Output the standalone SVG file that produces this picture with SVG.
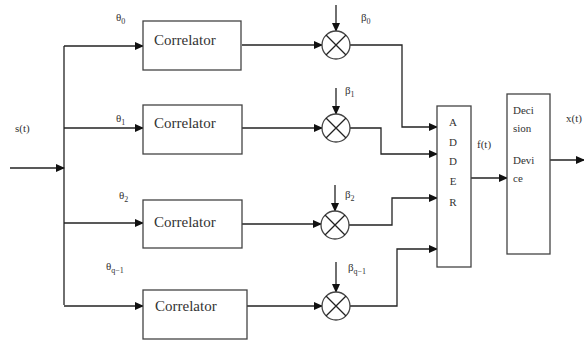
<svg xmlns="http://www.w3.org/2000/svg" width="584" height="342" viewBox="0 0 584 342">
<style>
.ln{stroke:#222;stroke-width:1.3;fill:none}
.bx{stroke:#444;stroke-width:1.3;fill:#fff}
.t{font-family:"Liberation Serif",serif;fill:#333}
.c{font-size:15px}
.s{font-size:11px}
</style>
<defs>
<marker id="ah" markerWidth="9" markerHeight="8" refX="8" refY="4" orient="auto" markerUnits="userSpaceOnUse">
<path d="M0,0 L9,4 L0,8 Z" fill="#111"/>
</marker>
</defs>
<rect width="584" height="342" fill="#fff"/>
<g id="connectors">
<path class="ln" d="M10,168 H64" marker-end="url(#ah)"/>
<path class="ln" d="M64,46 V305"/>
<path class="ln" d="M64,46 H143" marker-end="url(#ah)"/>
<path class="ln" d="M64,128 H143" marker-end="url(#ah)"/>
<path class="ln" d="M64,223 H143" marker-end="url(#ah)"/>
<path class="ln" d="M64,306 H143" marker-end="url(#ah)"/>
<path class="ln" d="M242,45 H322" marker-end="url(#ah)"/>
<path class="ln" d="M242,128 H322" marker-end="url(#ah)"/>
<path class="ln" d="M242,224 H321" marker-end="url(#ah)"/>
<path class="ln" d="M247,306 H322" marker-end="url(#ah)"/>
<path class="ln" d="M336,5 V31" marker-end="url(#ah)"/>
<path class="ln" d="M336,88 V114" marker-end="url(#ah)"/>
<path class="ln" d="M335,185 V211" marker-end="url(#ah)"/>
<path class="ln" d="M336,262 V292" marker-end="url(#ah)"/>
<path class="ln" d="M350,45 H402 V127 H437" marker-end="url(#ah)"/>
<path class="ln" d="M350,128 H381 V154 H437" marker-end="url(#ah)"/>
<path class="ln" d="M349,225 H392 V198 H437" marker-end="url(#ah)"/>
<path class="ln" d="M350,306 H397 V249 H437" marker-end="url(#ah)"/>
<path class="ln" d="M471,178 H507" marker-end="url(#ah)"/>
<path class="ln" d="M550,160 H584" marker-end="url(#ah)"/>
</g>
<g id="corr1"><rect class="bx" x="143" y="21" width="98" height="49"/><text class="t c" x="154" y="45">Correlator</text></g>
<g id="corr2"><rect class="bx" x="143" y="105" width="99" height="49"/><text class="t c" x="154" y="128">Correlator</text></g>
<g id="corr3"><rect class="bx" x="143" y="200" width="99" height="48"/><text class="t c" x="154" y="227">Correlator</text></g>
<g id="corr4"><rect class="bx" x="143" y="290" width="104" height="49"/><text class="t c" x="155" y="311">Correlator</text></g>
<g id="mult1"><circle class="bx" cx="336" cy="45" r="14"/><path class="ln" d="M326,35 L346,55 M346,35 L326,55" stroke="#555"/></g>
<g id="mult2"><circle class="bx" cx="336" cy="128" r="14"/><path class="ln" d="M326,118 L346,138 M346,118 L326,138" stroke="#555"/></g>
<g id="mult3"><circle class="bx" cx="335" cy="225" r="14"/><path class="ln" d="M325,215 L345,235 M345,215 L325,235" stroke="#555"/></g>
<g id="mult4"><circle class="bx" cx="336" cy="306" r="14"/><path class="ln" d="M326,296 L346,316 M346,296 L326,316" stroke="#555"/></g>
<g id="adder"><rect class="bx" x="437" y="106" width="34" height="161"/>
<text class="t s" x="453" y="126" text-anchor="middle">A</text>
<text class="t s" x="453" y="146" text-anchor="middle">D</text>
<text class="t s" x="453" y="165" text-anchor="middle">D</text>
<text class="t s" x="453" y="185" text-anchor="middle">E</text>
<text class="t s" x="453" y="206" text-anchor="middle">R</text></g>
<g id="decision"><rect class="bx" x="507" y="94" width="43" height="160"/>
<text class="t s" x="513" y="114">Deci</text>
<text class="t s" x="513" y="132">sion</text>
<text class="t s" x="513" y="164">Devi</text>
<text class="t s" x="513" y="182">ce</text></g>
<g id="labels">
<text class="t s" x="15" y="132">s(t)</text>
<text class="t s" x="477" y="148">f(t)</text>
<text class="t s" x="566" y="122">x(t)</text>
<text class="t s" x="116" y="21">θ<tspan font-size="8" dy="3">0</tspan></text>
<text class="t s" x="116" y="122">θ<tspan font-size="8" dy="3">1</tspan></text>
<text class="t s" x="119" y="199">θ<tspan font-size="8" dy="3">2</tspan></text>
<text class="t s" x="106" y="270">θ<tspan font-size="8" dy="3">q−1</tspan></text>
<text class="t s" x="361" y="21">β<tspan font-size="8" dy="3">0</tspan></text>
<text class="t s" x="345" y="94">β<tspan font-size="8" dy="3">1</tspan></text>
<text class="t s" x="345" y="198">β<tspan font-size="8" dy="3">2</tspan></text>
<text class="t s" x="348" y="271">β<tspan font-size="8" dy="3">q−1</tspan></text>
</g>
</svg>
